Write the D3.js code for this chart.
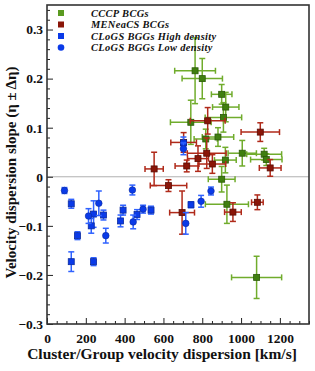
<!DOCTYPE html>
<html><head><meta charset="utf-8">
<script src="https://cdn.jsdelivr.net/npm/d3@7"></script>
<style>body{margin:0;background:#fff}svg{display:block}</style>
</head><body>
<svg id="c" width="315" height="371"></svg>
<script>
// ---- data ----
const xTicks = [0,200,400,600,800,1000,1200];
const yTicks = [-0.3,-0.2,-0.1,0,0.1,0.2,0.3];
const legendLabels = ["CCCP BCGs","MENeaCS BCGs","CLoGS BGGs High density","CLoGS BGGs Low density"];

// CCCP BCGs: [sigma, eta, xerr, yerr]
const greenX    = [763, 800, 900, 921, 909, 741, 881, 818, 1006, 1119, 1130, 919, 900, 927, 1080];
const greenY    = [0.216,0.200,0.168,0.142,0.121,0.111,0.081,0.077,0.048,0.046,0.035,0.034,-0.005,-0.056,-0.205];
const greenXerr = [105, 104, 53, 68, 94, 105, 81, 60, 73, 90, 81, 56, 69, 111, 129];
const greenYerr = [0.067,0.041,0.020,0.030,0.030,0.045,0.019,0.020,0.026,0.012,0.012,0.026,0.026,0.039,0.043];

// MENeaCS BCGs
const redX    = [552, 828, 1099, 704, 823, 778, 852, 720, 1150, 626, 696, 958, 1084];
const redY    = [0.016,0.114,0.091,0.070,0.048,0.037,0.026,0.022,0.018,-0.018,-0.073,-0.072,-0.052];
const redXerr = [47, 90, 99, 66, 100, 54, 69, 60, 56, 94, 64, 43, 30];
const redYerr = [0.034,0.027,0.019,0.020,0.031,0.026,0.019,0.012,0.017,0.012,0.044,0.019,0.015];

// CLoGS BGGs High density (squares)
const hiX    = [125, 157, 228, 240, 291, 379, 392, 464, 536, 125, 240, 703, 742];
const hiY    = [-0.055,-0.120,-0.100,-0.076,-0.078,-0.090,-0.068,-0.077,-0.068,-0.173,-0.173,0.069,-0.057];
const hiYerr = [0.009,0.008,0.015,0.027,0.010,0.012,0.010,0.010,0.008,0.020,0.008,0.012,0.006];

// CLoGS BGGs Low density (circles)
const loX    = [90, 214, 267, 303, 440, 444, 495, 703, 845, 794, 715];
const loY    = [-0.028,-0.080,-0.054,-0.120,-0.027,-0.092,-0.066,0.057,-0.029,-0.050,-0.095];
const loYerr = [0.006,0.015,0.025,0.015,0.010,0.014,0.008,0.012,0.008,0.012,0.022];

// ---- layout ----
const L = 47, R = 309, T = 5, B = 324;
const svg = d3.select("#c");
const x = d3.scaleLinear().domain([0,1350]).range([L,R]);
const y = d3.scaleLinear().domain([-0.3,0.35]).range([B,T]);
const font = "'Liberation Serif','Times New Roman',serif";

const col = {
  green:{bar:"#70ac2c", fill:"#3f7f0f", stroke:"#2c5a0a"},
  red:{bar:"#b02a1a", fill:"#8a1508", stroke:"#5a0d04"},
  blue:{bar:"#2f62ff", fill:"#0a3ae8", stroke:"#0a2aa0"}
};

// zero line
svg.append("line").attr("x1",L).attr("x2",R).attr("y1",y(0)).attr("y2",y(0))
  .attr("stroke","#b0b0b0").attr("stroke-width",1);

// axes with inward ticks
const xAxis = d3.axisBottom(x).tickValues(xTicks).tickSize(-6).tickFormat(d3.format("d"));
const xMinor = d3.axisBottom(x).tickValues(d3.range(0,1351,50).filter(v=>v%200!==0)).tickSize(-3).tickFormat("");
const yAxis = d3.axisLeft(y).tickValues(yTicks).tickSize(-6).tickFormat(d=> d===0?"0":d3.format(".1f")(d));
const yMinor = d3.axisLeft(y).tickValues(d3.range(-0.3,0.351,0.02).map(v=>+v.toFixed(2)).filter(v=>Math.abs(Math.round(v*10)-v*10)>1e-6)).tickSize(-3).tickFormat("");

function styleAxis(g){
  g.select(".domain").remove();
  g.selectAll(".tick line").attr("stroke","#222").attr("stroke-width",1);
  g.selectAll("text").attr("font-family",font).attr("font-weight","bold").attr("font-size",13.5).attr("fill","#111");
}
svg.append("g").attr("transform",`translate(0,${B})`).call(xAxis).call(styleAxis)
  .selectAll("text").attr("dy","0.95em").attr("y",6);
svg.append("g").attr("transform",`translate(0,${B})`).call(xMinor).call(styleAxis);
svg.append("g").attr("transform",`translate(${L},0)`).call(yAxis).call(styleAxis)
  .selectAll("text").attr("x",-4);
svg.append("g").attr("transform",`translate(${L},0)`).call(yMinor).call(styleAxis);

// error bars + markers
function errGroup(xs, ys, xe, ye, c){
  const g = svg.append("g");
  const cap = 3;
  xs.forEach((v,i)=>{
    const cx = x(v), cy = y(ys[i]);
    if (ye){
      const y1 = y(ys[i]+ye[i]), y2 = y(ys[i]-ye[i]);
      g.append("line").attr("x1",cx).attr("x2",cx).attr("y1",y1).attr("y2",y2).attr("stroke",c.bar).attr("stroke-width",1.5);
      g.append("line").attr("x1",cx-cap).attr("x2",cx+cap).attr("y1",y1).attr("y2",y1).attr("stroke",c.bar).attr("stroke-width",1.5);
      g.append("line").attr("x1",cx-cap).attr("x2",cx+cap).attr("y1",y2).attr("y2",y2).attr("stroke",c.bar).attr("stroke-width",1.5);
    }
    if (xe){
      const x1 = x(v-xe[i]), x2 = x(v+xe[i]);
      g.append("line").attr("x1",x1).attr("x2",x2).attr("y1",cy).attr("y2",cy).attr("stroke",c.bar).attr("stroke-width",1.5);
      g.append("line").attr("x1",x1).attr("x2",x1).attr("y1",cy-cap).attr("y2",cy+cap).attr("stroke",c.bar).attr("stroke-width",1.5);
      g.append("line").attr("x1",x2).attr("x2",x2).attr("y1",cy-cap).attr("y2",cy+cap).attr("stroke",c.bar).attr("stroke-width",1.5);
    }
  });
  return g;
}
function squares(xs, ys, c, s){
  svg.append("g").selectAll("rect").data(xs).join("rect")
    .attr("x",(d)=>x(d)-s/2).attr("y",(d,i)=>y(ys[i])-s/2).attr("width",s).attr("height",s)
    .attr("fill",c.fill).attr("stroke",c.stroke).attr("stroke-width",0.8);
}
function circles(xs, ys, c, r){
  svg.append("g").selectAll("circle").data(xs).join("circle")
    .attr("cx",d=>x(d)).attr("cy",(d,i)=>y(ys[i])).attr("r",r)
    .attr("fill",c.fill).attr("stroke",c.stroke).attr("stroke-width",0.6);
}

errGroup(greenX, greenY, greenXerr, greenYerr, col.green);
squares(greenX, greenY, col.green, 6);
errGroup(redX, redY, redXerr, redYerr, col.red);
squares(redX, redY, col.red, 6);
errGroup(hiX, hiY, null, hiYerr, col.blue);
squares(hiX, hiY, col.blue, 6);
errGroup(loX, loY, null, loYerr, col.blue);
circles(loX, loY, col.blue, 3.3);

// frame
svg.append("rect").attr("x",L).attr("y",T).attr("width",R-L).attr("height",B-T)
  .attr("fill","none").attr("stroke","#333").attr("stroke-width",1.6);

// legend
const legY = [13,24.5,36,47.5];
const legCols = [col.green, col.red, col.blue, col.blue];
legendLabels.forEach((t,i)=>{
  if (i<3){
    svg.append("rect").attr("x",58).attr("y",legY[i]-3).attr("width",6).attr("height",6)
      .attr("fill",i===0?"#5a9a20":legCols[i].fill).attr("stroke","none");
  } else {
    svg.append("circle").attr("cx",61).attr("cy",legY[i]).attr("r",3.3).attr("fill",legCols[i].fill);
  }
  svg.append("text").attr("x",91).attr("y",legY[i]).attr("dy","0.35em")
    .attr("font-family",font).attr("font-style","italic").attr("font-weight","bold")
    .attr("font-size",10.4).attr("letter-spacing",0.35).attr("fill","#111").text(t);
});

// axis titles
svg.append("text").attr("x",162).attr("y",359).attr("text-anchor","middle")
  .attr("font-family",font).attr("font-weight","bold").attr("font-size",15.5).attr("fill","#111")
  .text("Cluster/Group velocity dispersion [km/s]");
svg.append("text").attr("transform",`translate(16,${(T+B)/2+8}) rotate(-90)`).attr("text-anchor","middle")
  .attr("font-family",font).attr("font-weight","bold").attr("font-size",15).attr("fill","#111")
  .text("Velocity dispersion slope (η ± Δη)");
</script>
</body></html>
